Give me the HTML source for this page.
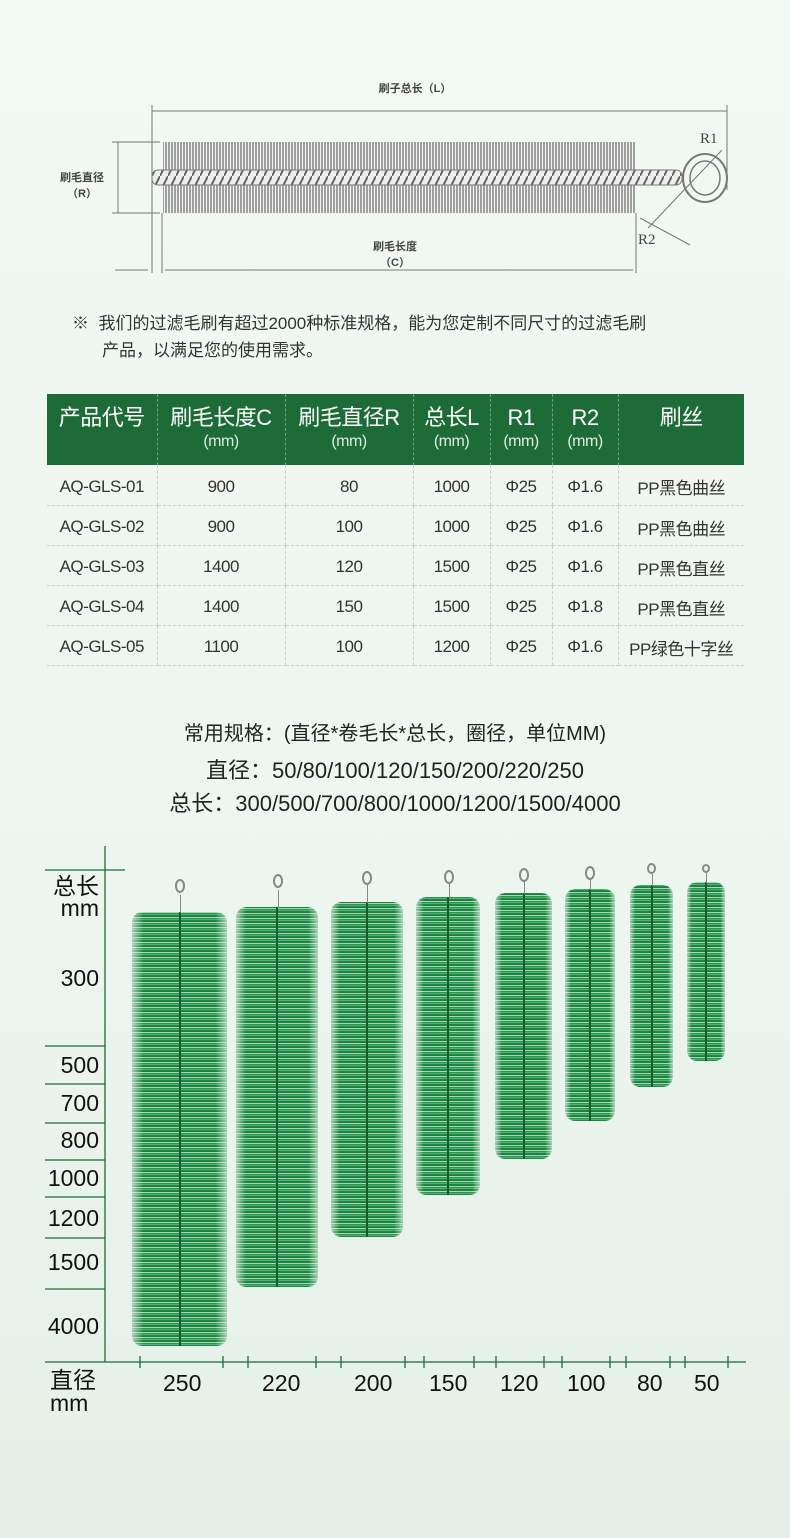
<!DOCTYPE html>
<html><head><meta charset="utf-8"><style>
*{margin:0;padding:0;box-sizing:border-box}
body{width:790px;height:1538px;position:relative;overflow:hidden;background:linear-gradient(180deg,#f2f8f3 0%,#eef6f0 50%,#e4f0e7 100%);font-family:"Liberation Sans","Noto Sans CJK SC",sans-serif;color:#222}
.a{position:absolute;white-space:nowrap}
table{position:absolute;left:47px;top:394px;width:697px;border-collapse:collapse}
td,th{text-align:center;border-left:1px dashed #c8d2ca;border-bottom:1px dashed #c8d2ca;letter-spacing:-0.5px}
td:first-child,th:first-child{border-left:none}
th{background:#1d6b37;color:#fff;font-weight:normal;font-size:22px;height:71px;line-height:24px;vertical-align:middle;border-left:1px dashed #6f9f7f;border-bottom:none}
th span{display:block;font-size:16px;color:#dfeee3}
td{height:40px;font-size:17px;color:#333;padding-top:4px}
.lab{position:absolute;font-size:23px;line-height:26px;color:#111;text-align:right;width:60px;left:39px}
.blab{position:absolute;font-size:23px;color:#111;top:1370px}
.br{position:absolute;background:repeating-linear-gradient(0deg,#1f8743 0 1px,#4fb174 1px 2px,#2a944f 2px 3px,#a6d8b4 3px 4px,#1c7f3e 4px 5px);border-radius:10px;-webkit-mask-image:linear-gradient(90deg,rgba(0,0,0,.35),#000 12%,#000 88%,rgba(0,0,0,.35));mask-image:linear-gradient(90deg,rgba(0,0,0,.35),#000 12%,#000 88%,rgba(0,0,0,.35))}
.br::after{content:"";position:absolute;left:50%;top:0;bottom:0;width:2px;margin-left:-1px;background:#145c2c}
.lp{position:absolute;border:2px solid #888;border-radius:50%;width:10px;height:14px}
.st{position:absolute;width:1px;background:#888}
</style></head><body>

<svg class="a" style="left:0;top:0" width="790" height="290">
<g stroke="#777" stroke-width="1" fill="none">
<line x1="152" y1="111" x2="727" y2="111"/>
<line x1="152" y1="105" x2="152" y2="273"/>
<line x1="162" y1="213" x2="162" y2="273"/>
<line x1="636" y1="213" x2="636" y2="273"/>
<line x1="727" y1="105" x2="727" y2="190"/>
<line x1="115" y1="270" x2="148" y2="270"/>
<line x1="165" y1="270" x2="633" y2="270"/>
<line x1="118" y1="142" x2="118" y2="213"/>
<line x1="112" y1="142" x2="160" y2="142"/>
<line x1="112" y1="213" x2="160" y2="213"/>
<line x1="640" y1="218" x2="690" y2="245"/>
<line x1="648" y1="228" x2="722" y2="150"/>
</g>
<defs><pattern id="bp" width="3" height="10" patternUnits="userSpaceOnUse"><rect width="3" height="10" fill="#f0f3f0"/><line x1="1" y1="0" x2="1" y2="10" stroke="#6a6a6a" stroke-width="1.2"/></pattern>
<pattern id="tw" width="8" height="16" patternUnits="userSpaceOnUse"><rect width="8" height="16" fill="#eee"/><line x1="0" y1="16" x2="8" y2="0" stroke="#666" stroke-width="2"/></pattern></defs>
<rect x="163" y="142" width="473" height="28" fill="url(#bp)"/>
<rect x="163" y="185" width="473" height="28" fill="url(#bp)"/>
<rect x="152" y="170" width="530" height="15" rx="6" fill="url(#tw)" stroke="#777"/>
<ellipse cx="705" cy="178" rx="22" ry="24" fill="none" stroke="#777" stroke-width="2"/>
<ellipse cx="705" cy="178" rx="15" ry="17" fill="none" stroke="#777" stroke-width="1.5"/>
<text x="700" y="143" font-family="Liberation Serif" font-size="15" fill="#444">R1</text>
<text x="638" y="244" font-family="Liberation Serif" font-size="15" fill="#444">R2</text>
<g font-size="11" font-weight="bold" fill="#444" text-anchor="middle">
<text x="415" y="92">刷子总长（L）</text>
<text x="82" y="181">刷毛直径</text><text x="82" y="197">（R）</text>
<text x="395" y="250">刷毛长度</text><text x="395" y="266">（C）</text>
</g>
</svg>

<div class="a" style="left:72px;top:309px;font-size:17px;color:#333">※&nbsp; 我们的过滤毛刷有超过2000种标准规格，能为您定制不同尺寸的过滤毛刷</div>
<div class="a" style="left:102px;top:336px;font-size:17px;color:#333">产品，以满足您的使用需求。</div>

<table>
<tr><th style="width:110px">产品代号<span>&nbsp;</span></th><th style="width:128px">刷毛长度C<span>(mm)</span></th><th style="width:128px">刷毛直径R<span>(mm)</span></th><th style="width:77px">总长L<span>(mm)</span></th><th style="width:62px">R1<span>(mm)</span></th><th style="width:66px">R2<span>(mm)</span></th><th>刷丝<span>&nbsp;</span></th></tr>
<tr><td>AQ-GLS-01</td><td>900</td><td>80</td><td>1000</td><td>Φ25</td><td>Φ1.6</td><td>PP黑色曲丝</td></tr>
<tr><td>AQ-GLS-02</td><td>900</td><td>100</td><td>1000</td><td>Φ25</td><td>Φ1.6</td><td>PP黑色曲丝</td></tr>
<tr><td>AQ-GLS-03</td><td>1400</td><td>120</td><td>1500</td><td>Φ25</td><td>Φ1.6</td><td>PP黑色直丝</td></tr>
<tr><td>AQ-GLS-04</td><td>1400</td><td>150</td><td>1500</td><td>Φ25</td><td>Φ1.8</td><td>PP黑色直丝</td></tr>
<tr><td>AQ-GLS-05</td><td>1100</td><td>100</td><td>1200</td><td>Φ25</td><td>Φ1.6</td><td>PP绿色十字丝</td></tr>
</table>

<div class="a" style="left:0;width:790px;text-align:center;top:717px;font-size:20px;color:#222">常用规格：(直径*卷毛长*总长，圈径，单位MM)</div>
<div class="a" style="left:0;width:790px;text-align:center;top:753px;font-size:22px;color:#222">直径：50/80/100/120/150/200/220/250</div>
<div class="a" style="left:0;width:790px;text-align:center;top:786px;font-size:22px;color:#222">总长：300/500/700/800/1000/1200/1500/4000</div>

<svg class="a" style="left:0;top:840px" width="790" height="540">
<g stroke="#1d6b37" stroke-width="1.3">
<line x1="105" y1="6" x2="105" y2="522"/>
<line x1="45" y1="522" x2="746" y2="522"/>
<line x1="45" y1="30" x2="125" y2="30"/>
<line x1="45" y1="206" x2="105" y2="206"/>
<line x1="45" y1="244" x2="105" y2="244"/>
<line x1="45" y1="283" x2="105" y2="283"/>
<line x1="45" y1="320" x2="105" y2="320"/>
<line x1="45" y1="357" x2="105" y2="357"/>
<line x1="45" y1="398" x2="105" y2="398"/>
<line x1="45" y1="449" x2="105" y2="449"/>
<g>
<line x1="140" y1="516" x2="140" y2="528"/><line x1="223" y1="516" x2="223" y2="528"/>
<line x1="248" y1="516" x2="248" y2="528"/><line x1="316" y1="516" x2="316" y2="528"/>
<line x1="341" y1="516" x2="341" y2="528"/><line x1="405" y1="516" x2="405" y2="528"/>
<line x1="424" y1="516" x2="424" y2="528"/><line x1="474" y1="516" x2="474" y2="528"/>
<line x1="496" y1="516" x2="496" y2="528"/><line x1="544" y1="516" x2="544" y2="528"/>
<line x1="562" y1="516" x2="562" y2="528"/><line x1="610" y1="516" x2="610" y2="528"/>
<line x1="626" y1="516" x2="626" y2="528"/><line x1="670" y1="516" x2="670" y2="528"/>
<line x1="685" y1="516" x2="685" y2="528"/><line x1="728" y1="516" x2="728" y2="528"/>
</g></g></svg>

<div class="lab" style="top:873px">总长</div>
<div class="lab" style="top:897px;line-height:22px">mm</div>
<div class="lab" style="top:965px">300</div>
<div class="lab" style="top:1052px">500</div>
<div class="lab" style="top:1090px">700</div>
<div class="lab" style="top:1127px">800</div>
<div class="lab" style="top:1165px">1000</div>
<div class="lab" style="top:1205px">1200</div>
<div class="lab" style="top:1249px">1500</div>
<div class="lab" style="top:1313px">4000</div>
<div class="a" style="left:50px;top:1369px;font-size:23px;line-height:23px;color:#111">直径<br>mm</div>
<div class="blab" style="left:163px">250</div>
<div class="blab" style="left:262px">220</div>
<div class="blab" style="left:354px">200</div>
<div class="blab" style="left:429px">150</div>
<div class="blab" style="left:500px">120</div>
<div class="blab" style="left:567px">100</div>
<div class="blab" style="left:637px">80</div>
<div class="blab" style="left:694px">50</div>

<div class="br" style="left:132px;top:912px;width:95px;height:434px"></div>
<div class="st" style="left:180px;top:895px;height:18px"></div><div class="lp" style="left:175px;top:879px"></div>
<div class="br" style="left:236px;top:907px;width:82px;height:380px"></div>
<div class="st" style="left:278px;top:890px;height:18px"></div><div class="lp" style="left:273px;top:874px"></div>
<div class="br" style="left:331px;top:902px;width:72px;height:335px"></div>
<div class="st" style="left:367px;top:885px;height:18px"></div><div class="lp" style="left:362px;top:871px"></div>
<div class="br" style="left:416px;top:897px;width:64px;height:298px"></div>
<div class="st" style="left:449px;top:883px;height:15px"></div><div class="lp" style="left:444px;top:870px"></div>
<div class="br" style="left:495px;top:893px;width:57px;height:266px"></div>
<div class="st" style="left:524px;top:880px;height:14px"></div><div class="lp" style="left:519px;top:868px"></div>
<div class="br" style="left:565px;top:889px;width:50px;height:232px"></div>
<div class="st" style="left:590px;top:878px;height:12px"></div><div class="lp" style="left:585px;top:866px"></div>
<div class="br" style="left:630px;top:885px;width:43px;height:202px"></div>
<div class="st" style="left:652px;top:874px;height:12px"></div><div class="lp" style="left:647px;top:863px;width:9px;height:11px"></div>
<div class="br" style="left:687px;top:882px;width:38px;height:179px"></div>
<div class="st" style="left:706px;top:873px;height:10px"></div><div class="lp" style="left:702px;top:864px;width:8px;height:9px"></div>
</body></html>
